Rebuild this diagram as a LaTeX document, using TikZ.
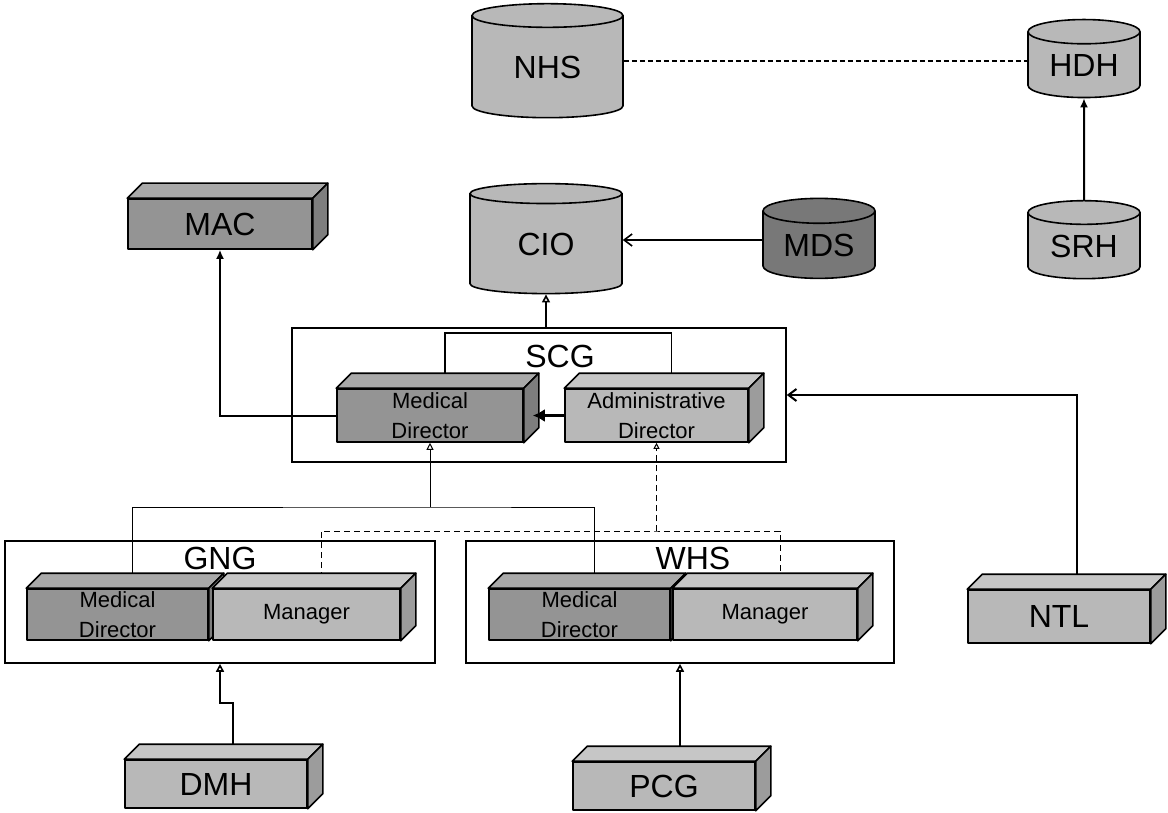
\documentclass[tikz,border=0pt]{standalone}
\usepackage{fontspec}
\setmainfont{Liberation Sans}
\usetikzlibrary{shapes.geometric,arrows.meta,backgrounds}

\definecolor{boxlight}{gray}{0.72}
\definecolor{boxdark}{gray}{0.58}
\definecolor{boxdarker}{gray}{0.47}

\newcommand{\biglbl}{\fontsize{16}{19}\selectfont}
\newcommand{\smalllbl}{\fontsize{11}{15}\selectfont}

% top and side faces of a 3d box node
\newcommand{\boxfaces}[2]{%
  \filldraw[boxline, fill=#2!80!white] (#1.north west) -- ++(15,-15)
    -- ([shift={(15,-15)}]#1.north east) -- (#1.north east) -- cycle;
  \filldraw[boxline, fill=#2!85!black] (#1.north east) -- ([shift={(15,-15)}]#1.north east)
    -- ([shift={(15,-15)}]#1.south east) -- (#1.south east) -- cycle;
}

\begin{document}
\begin{tikzpicture}[x=0.5pt, y=-0.5pt,
    boxline/.style={line width=0.8pt, line join=round},
    db/.style={cylinder, shape border rotate=90, aspect=0.35, draw, line width=0.8pt,
      fill=#1, inner sep=0pt, font=\biglbl},
    cube/.style={rectangle, draw, boxline, fill=#1, inner sep=0pt, align=center, font=\smalllbl},
    group/.style={rectangle, draw, line width=0.8pt, inner sep=0pt},
    grouplbl/.style={font=\biglbl, inner sep=0pt},
    arr/.style={line width=1pt, -{Latex[length=4.5pt,width=4pt]}},
    openarr/.style={line width=0.8pt, -{Triangle[open,length=4pt,width=4pt]}},
    barb/.style={line width=0.8pt, -{Straight Barb[length=4pt,width=6pt]}},
    bus/.style={line width=0.5pt},
    dashbus/.style={line width=0.5pt, dash pattern=on 3pt off 2pt}]

\useasboundingbox (0,0) rectangle (1168,813);

% databases
\node[db=boxlight, minimum width=75.5pt, minimum height=57pt] (nhs) at (547.5,67) {NHS};
\node[db=boxlight, minimum width=56pt, minimum height=39pt] (hdh) at (1084,65) {HDH};
\node[db=boxlight, minimum width=56pt, minimum height=39pt] (srh) at (1084,246) {SRH};
\node[db=boxlight, minimum width=76pt, minimum height=55pt] (cio) at (546,244) {CIO};
\node[db=boxdarker, minimum width=56pt, minimum height=40pt] (mds) at (819,245) {MDS};

% groups
\node[group, minimum width=247pt, minimum height=67pt] (scg) at (539,395) {};
\node[group, minimum width=215pt, minimum height=61pt] (gng) at (220,602) {};
\node[group, minimum width=214pt, minimum height=61pt] (whs) at (680,602) {};
\node[grouplbl] (scglbl) at (560,356) {SCG};
\node[grouplbl] (gnglbl) at (220,558) {GNG};
\node[grouplbl] (whslbl) at (693,558) {WHS};

% boxes
\node[cube=boxdark, font=\biglbl, minimum width=92pt, minimum height=25pt] (mac) at (220,224) {MAC};
\boxfaces{mac}{boxdark}
\node[cube=boxdark, minimum width=93pt, minimum height=26.5pt] (smd) at (430,415.5) {Medical\\Director};
\boxfaces{smd}{boxdark}
\node[cube=boxlight, minimum width=91.5pt, minimum height=26.5pt] (sad) at (656.5,415.5) {Administrative\\Director};
\boxfaces{sad}{boxlight}
\node[cube=boxdark, minimum width=90.5pt, minimum height=25.5pt] (gmd) at (117.5,614.5) {Medical\\Director};
\boxfaces{gmd}{boxdark}
\node[cube=boxlight, minimum width=93.5pt, minimum height=25.5pt] (gmg) at (306.5,614.5) {Manager};
\boxfaces{gmg}{boxlight}
\node[cube=boxdark, minimum width=90.5pt, minimum height=25.5pt] (wmd) at (579.5,614.5) {Medical\\Director};
\boxfaces{wmd}{boxdark}
\node[cube=boxlight, minimum width=92pt, minimum height=25.5pt] (wmg) at (765,614.5) {Manager};
\boxfaces{wmg}{boxlight}
\node[cube=boxlight, font=\biglbl, minimum width=91pt, minimum height=26.5pt] (ntl) at (1059,616.5) {NTL};
\boxfaces{ntl}{boxlight}
\node[cube=boxlight, font=\biglbl, minimum width=91pt, minimum height=24pt] (dmh) at (216,784) {DMH};
\boxfaces{dmh}{boxlight}
\node[cube=boxlight, font=\biglbl, minimum width=91pt, minimum height=24pt] (pcg) at (664,786) {PCG};
\boxfaces{pcg}{boxlight}

\coordinate (scgtop) at (558,333);
\coordinate (mdbus) at (smd.south |- 0,507);
\coordinate (adbus) at (sad.south |- 0,531);

\begin{scope}[on background layer]
  \draw[line width=0.8pt, dash pattern=on 2.5pt off 1.5pt] ([yshift=3pt]nhs.east) -- ([yshift=3pt]nhs.east -| hdh.west);
  \draw[arr] (srh.north) -- (hdh.south);
  \draw[barb] ([yshift=2.5pt]mds.west) -- ([yshift=2.5pt]mds.west -| cio.east);
  \draw[openarr] (cio.south |- scg.north) -- (cio.south);
  \draw[arr] (smd.west) -| (mac.south);
  \draw[line width=0.8pt] ([xshift=7.5pt]smd.north) |- (scgtop) -| ([xshift=7.5pt]sad.north);
  \draw[barb, line width=1pt] ([xshift=9pt]ntl.north) |- (scg.east);
  \draw[bus] ([xshift=7.5pt]gmd.north) |- (mdbus) -| ([xshift=7.5pt]wmd.north);
  \draw[bus, -{Triangle[open,length=3.5pt,width=3.5pt]}] (mdbus) -- (smd.south);
  \draw[dashbus] ([xshift=7.5pt]gmg.north) |- (adbus) -| ([xshift=7.5pt]wmg.north);
  \draw[dashbus, -{Triangle[open,length=3pt,width=3pt]}] (adbus) -- (sad.south);
  \draw[openarr] ([xshift=8.5pt]dmh.north) |- ([yshift=-19.5pt]gng.south) -- (gng.south);
  \draw[openarr] (whs.south |- pcg.north) -- (whs.south);
\end{scope}

\draw[line width=1.5pt, -{Latex[length=6pt,width=6.5pt]}] (sad.west) -- ([xshift=4.5pt]smd.east);
\end{tikzpicture}
\end{document}
